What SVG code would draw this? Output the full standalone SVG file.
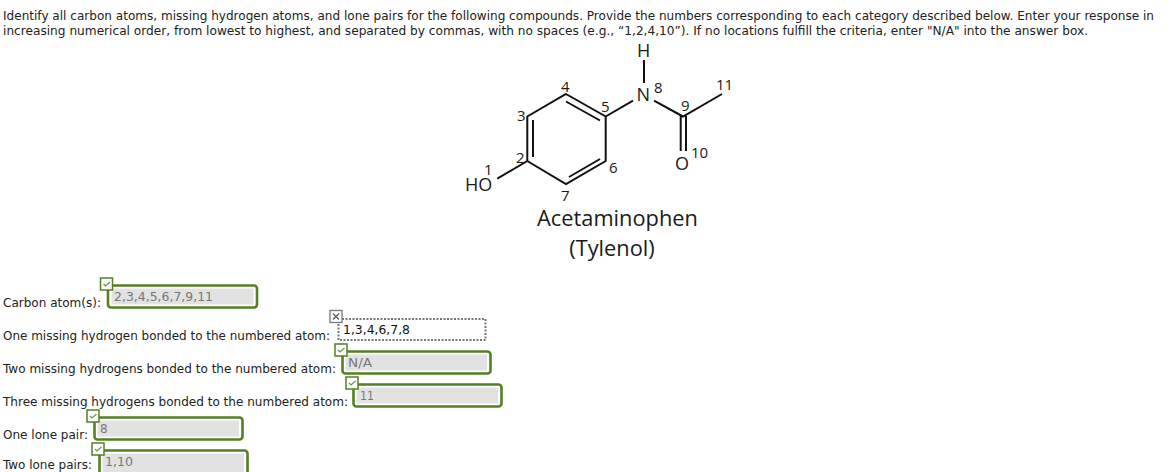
<svg xmlns="http://www.w3.org/2000/svg" width="1176" height="472" viewBox="0 0 1176 472">
<style>
text{font-family:"DejaVu Sans","Liberation Sans",sans-serif;font-size:12px;fill:#222}
.chem{font-family:"Open Sans","Noto Sans",sans-serif;fill:#1a1a1a}
.n{font-size:15px}
.a{font-size:18px}
.t{font-size:21.800px}
.v{fill:#777}
.e{fill:#111}
.bond{stroke:#111;stroke-width:2;fill:none}
.box{fill:#e2e2e2;stroke:#fff;stroke-width:1}
.ring{fill:#fff;stroke:#557f24;stroke-width:2.6}
.chk{fill:#fff;stroke:#557f24;stroke-width:1.5}
.tick{fill:none;stroke:#6f9440;stroke-width:1.2}
</style>
<g id="instructions">
<text x="3" y="20" textLength="1151" lengthAdjust="spacingAndGlyphs">Identify all carbon atoms, missing hydrogen atoms, and lone pairs for the following compounds. Provide the numbers corresponding to each category described below. Enter your response in</text>
<text x="3" y="35" textLength="1085" lengthAdjust="spacingAndGlyphs">increasing numerical order, from lowest to highest, and separated by commas, with no spaces (e.g., “1,2,4,10”). If no locations fulfill the criteria, enter "N/A" into the answer box.</text>
</g>
<g id="connectors">
<path class="bond" d="M566 94L605.700 116.500V161L566 184L527.300 161V116.500Z"/>
<path class="bond" d="M533 120V157M566 101.500L600 120.500M569 177L600 159"/>
<path class="bond" d="M605.700 116.500L633 100.700M644 60V83M654 100.700L683 116.500L722 94M680.700 116V151M686 116V151M527.300 161L497.300 178.700"/>
</g>
<g id="molecule-labels" class="chem">
<text class="chem a" x="637" y="56.500">H</text>
<text class="chem a" x="636.500" y="101">N</text>
<text class="chem a" x="675" y="169.500">O</text>
<text class="chem a" x="465" y="191">HO</text>
<text class="chem n" x="484" y="174.500">1</text>
<text class="chem n" x="516" y="163">2</text>
<text class="chem n" x="517" y="121">3</text>
<text class="chem n" x="561" y="92">4</text>
<text class="chem n" x="601" y="112">5</text>
<text class="chem n" x="609" y="173">6</text>
<text class="chem n" x="561" y="201">7</text>
<text class="chem n" x="654" y="92.500">8</text>
<text class="chem n" x="681" y="111">9</text>
<text class="chem n" x="691" y="158">10</text>
<text class="chem n" x="716" y="90">11</text>
<text class="chem t" x="617.500" y="226" text-anchor="middle">Acetaminophen</text>
<text class="chem t" x="612" y="256" text-anchor="middle">(Tylenol)</text>
</g>
<g id="carbon-atoms">
<text x="3" y="307" textLength="98" lengthAdjust="spacingAndGlyphs">Carbon atom(s):</text>
<rect class="ring" x="108" y="285.500" width="149" height="22" rx="3"/>
<rect class="box" x="111" y="288" width="143" height="17"/>
<text class="v" x="114" y="301" textLength="99" lengthAdjust="spacingAndGlyphs">2,3,4,5,6,7,9,11</text>
<rect class="chk" x="100.500" y="278" width="12" height="12"/>
<path class="tick" d="M103.500 284L105.500 286L110 282"/>
</g>
<g id="one-missing">
<text x="3" y="340" textLength="327" lengthAdjust="spacingAndGlyphs">One missing hydrogen bonded to the numbered atom:</text>
<rect x="338.500" y="319" width="147" height="21" fill="#fff" stroke="#777" stroke-width="2" stroke-dasharray="2 1.500"/>
<text class="e" x="343" y="334" textLength="67" lengthAdjust="spacingAndGlyphs">1,3,4,6,7,8</text>
<rect x="330" y="310.500" width="12" height="12" fill="#fff" stroke="#777" stroke-width="1.300"/>
<path d="M333 313.500L339 319.500M339 313.500L333 319.500" stroke="#666" stroke-width="1.600" fill="none"/>
</g>
<g id="two-missing">
<text x="3" y="373" textLength="333" lengthAdjust="spacingAndGlyphs">Two missing hydrogens bonded to the numbered atom:</text>
<rect class="ring" x="342.500" y="351.500" width="148" height="22" rx="3"/>
<rect class="box" x="345" y="354" width="142.500" height="17"/>
<text class="v" x="348" y="367" textLength="24" lengthAdjust="spacingAndGlyphs">N/A</text>
<rect class="chk" x="335" y="344" width="12" height="12"/>
<path class="tick" d="M338 350L340 352L344.500 348"/>
</g>
<g id="three-missing">
<text x="3" y="406" textLength="345" lengthAdjust="spacingAndGlyphs">Three missing hydrogens bonded to the numbered atom:</text>
<rect class="ring" x="353.500" y="384.500" width="148" height="22" rx="3"/>
<rect class="box" x="356" y="387" width="142.500" height="17"/>
<text class="v" x="360" y="400" textLength="14" lengthAdjust="spacingAndGlyphs">11</text>
<rect class="chk" x="346" y="377" width="12" height="12"/>
<path class="tick" d="M349 383L351 385L355.500 381"/>
</g>
<g id="one-lone-pair">
<text x="3" y="439" textLength="85" lengthAdjust="spacingAndGlyphs">One lone pair:</text>
<rect class="ring" x="94.500" y="417.500" width="148" height="22" rx="3"/>
<rect class="box" x="97" y="420" width="142.500" height="17"/>
<text class="v" x="100" y="433">8</text>
<rect class="chk" x="87" y="410" width="12" height="12"/>
<path class="tick" d="M90 416L92 418L96.500 414"/>
</g>
<g id="two-lone-pairs">
<text x="3" y="469" textLength="89" lengthAdjust="spacingAndGlyphs">Two lone pairs:</text>
<rect class="ring" x="99.500" y="450.500" width="148" height="24" rx="3"/>
<rect class="box" x="102" y="453" width="142.500" height="21"/>
<text class="v" x="105" y="466" textLength="28" lengthAdjust="spacingAndGlyphs">1,10</text>
<rect class="chk" x="92" y="443" width="12" height="12"/>
<path class="tick" d="M95 449L97 451L101.500 447"/>
</g>
</svg>
